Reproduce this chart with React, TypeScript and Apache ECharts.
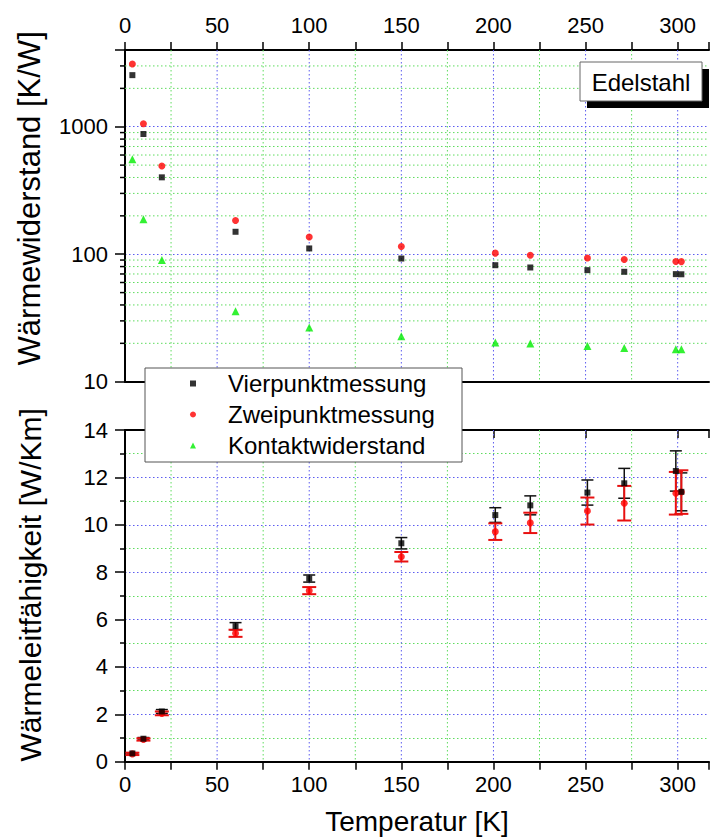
import React, { useEffect, useRef } from 'react';
import * as echarts from 'echarts';

// Measurement temperatures [K]
const temps = [4, 10, 20, 60, 100, 150, 201, 220, 251, 271, 299, 302];

// Thermal resistance [K/W]
const resistanceFour = [2540, 877, 401, 150, 111, 92.5, 82, 78.7, 75, 72.8, 69.8, 69.6];
const resistanceTwo = [3105, 1056, 492, 184, 136.7, 115, 102, 98.3, 93.5, 90.8, 87.7, 87.5];
const resistanceContact = [555, 188, 90, 35.7, 26.6, 22.7, 20.3, 19.9, 19.1, 18.4, 18.0, 18.0];

// Thermal conductivity [W/Km] with uncertainties
const conductivityFour = [0.35, 0.97, 2.12, 5.72, 7.73, 9.22, 10.41, 10.82, 11.36, 11.75, 12.27, 11.39];
const conductivityFourErr = [0.03, 0.05, 0.08, 0.15, 0.15, 0.24, 0.31, 0.4, 0.53, 0.63, 0.85, 0.8];
const conductivityTwo = [0.33, 0.94, 2.04, 5.42, 7.22, 8.65, 9.71, 10.08, 10.58, 10.91, 11.33, 11.38];
const conductivityTwoErr = [0.05, 0.05, 0.08, 0.15, 0.15, 0.2, 0.35, 0.43, 0.57, 0.73, 0.9, 0.92];

// Axis ticks
const tempTicks = [0, 50, 100, 150, 200, 250, 300];
const tempGrid = [25, 50, 75, 100, 125, 150, 175, 200, 225, 250, 275, 300];
const resistanceTicks = [10, 100, 1000];
const resistanceMinor = [20, 30, 40, 50, 60, 70, 80, 90, 200, 300, 400, 500, 600, 700, 800, 900, 2000, 3000];

const FONT = 'Liberation Sans, Arial, Helvetica, sans-serif';
const BLUE = '#5c5cf0';
const GREEN = '#5fdc5f';
const DOTS = [1.5, 2.5];
const RED = '#ff0000';
const LIME = '#00ee00';

const xBase = (gridIndex: number, position: 'top' | 'bottom') => ({
  type: 'value',
  gridIndex,
  position,
  min: 0,
  max: 317,
  interval: 25,
  axisLine: { show: true, onZero: false, lineStyle: { color: '#000', width: 2 } },
  axisTick: { show: true, inside: false, length: 8, lineStyle: { color: '#000', width: 1.5 } },
  axisLabel: {
    show: true,
    color: '#000',
    fontSize: 22,
    fontFamily: FONT,
    margin: position === 'top' ? 14 : 12,
    formatter: (v: number) => (tempTicks.includes(Math.round(v)) && Math.abs(v - Math.round(v)) < 1e-6 ? String(Math.round(v)) : ''),
  },
  splitLine: { show: false },
});

// vertical dotted grid: blue at labelled temperatures, green in between
const tempGridSeries = (xAxisIndex: number, yAxisIndex: number, yRef: number) => ({
  type: 'custom',
  name: 'tempGrid' + xAxisIndex,
  xAxisIndex,
  yAxisIndex,
  z: 1,
  silent: true,
  data: tempGrid.map((t) => [t, yRef]),
  encode: { x: 0, y: 1 },
  renderItem: (params: any, api: any) => {
    const cs = params.coordSys;
    const t = api.value(0);
    const p = api.coord([t, yRef]);
    return {
      type: 'line',
      shape: { x1: p[0], y1: cs.y, x2: p[0], y2: cs.y + cs.height },
      style: { stroke: t % 50 === 0 ? BLUE : GREEN, lineWidth: 1, lineDash: DOTS },
    };
  },
});

const errorBarSeries = (name: string, values: number[], errs: number[], color: string, cap: number, width: number) => ({
  type: 'custom',
  name,
  xAxisIndex: 2,
  yAxisIndex: 1,
  z: 2,
  silent: true,
  data: temps.map((t, i) => [t, values[i], errs[i]]),
  encode: { x: 0, y: 1 },
  renderItem: (_params: any, api: any) => {
    const x = api.value(0);
    const y = api.value(1);
    const e = api.value(2);
    const top = api.coord([x, y + e]);
    const bot = api.coord([x, y - e]);
    const style = { stroke: color, lineWidth: width };
    return {
      type: 'group',
      children: [
        { type: 'line', shape: { x1: top[0], y1: top[1], x2: bot[0], y2: bot[1] }, style },
        { type: 'line', shape: { x1: top[0] - cap, y1: top[1], x2: top[0] + cap, y2: top[1] }, style },
        { type: 'line', shape: { x1: bot[0] - cap, y1: bot[1], x2: bot[0] + cap, y2: bot[1] }, style },
      ],
    };
  },
});

export default function App() {
  const ref = useRef<HTMLDivElement>(null);

  useEffect(() => {
    if (!ref.current) return;
    const chart = echarts.init(ref.current, undefined, { renderer: 'svg' });

    const option: any = {
      animation: false,
      backgroundColor: '#fff',
      textStyle: { fontFamily: FONT },
      grid: [
        { left: 125, top: 50, width: 587, height: 331.7 },
        { left: 125, top: 430, width: 587, height: 331.7 },
      ],
      legend: {
        orient: 'vertical',
        left: 190,
        top: 370.5,
        padding: 0,
        itemWidth: 6,
        itemHeight: 6,
        itemGap: 5,
        selectedMode: false,
        z: 10,
        textStyle: { fontSize: 24, lineHeight: 26, color: '#000', fontFamily: FONT, padding: [0, 0, 0, 27] },
        data: [
          { name: 'Vierpunktmessung', icon: 'rect' },
          { name: 'Zweipunktmessung', icon: 'circle' },
          { name: 'Kontaktwiderstand', icon: 'triangle' },
        ],
      },
      xAxis: [
        xBase(0, 'top'),
        {
          type: 'value', gridIndex: 0, position: 'bottom', min: 0, max: 317,
          axisLine: { show: true, onZero: false, lineStyle: { color: '#000', width: 2 } },
          axisTick: { show: false }, axisLabel: { show: false }, splitLine: { show: false },
        },
        {
          ...xBase(1, 'bottom'),
          name: 'Temperatur [K]',
          nameLocation: 'middle',
          nameGap: 46,
          nameTextStyle: { fontSize: 28, color: '#000', fontFamily: FONT },
        },
        {
          type: 'value', gridIndex: 1, position: 'top', min: 0, max: 317, interval: 50,
          axisLine: { show: true, onZero: false, lineStyle: { color: '#000', width: 2 } },
          axisTick: { show: true, inside: true, length: 8, lineStyle: { color: '#000', width: 1.5 } },
          axisLabel: { show: false }, splitLine: { show: false },
        },
      ],
      yAxis: [
        {
          type: 'log',
          logBase: 10,
          gridIndex: 0,
          min: 10,
          max: 4000,
          name: 'Wärmewiderstand [K/W]',
          nameLocation: 'middle',
          nameRotate: 90,
          nameGap: 80,
          nameTextStyle: { fontSize: 31, color: '#000', fontFamily: FONT, padding: [0, 0, 0, 35] },
          axisLine: { show: true, onZero: false, lineStyle: { color: '#000', width: 2 } },
          axisTick: { show: true, length: 10, lineStyle: { color: '#000', width: 1.5 } },
          axisLabel: {
            color: '#000', fontSize: 22, fontFamily: FONT, margin: 17,
            formatter: (v: number) => {
              const r = Math.round(v);
              return resistanceTicks.includes(r) && Math.abs(v - r) < 1e-3 ? String(r) : '';
            },
          },
          splitLine: { show: true, showMaxLine: false, lineStyle: { color: BLUE, type: DOTS, width: 1 } },
        },
        {
          type: 'value',
          gridIndex: 1,
          min: 0,
          max: 14,
          interval: 2,
          name: 'Wärmeleitfähigkeit [W/Km]',
          nameLocation: 'middle',
          nameRotate: 90,
          nameGap: 80,
          nameTextStyle: { fontSize: 30, color: '#000', fontFamily: FONT, padding: [0, 0, 0, 22] },
          axisLine: { show: true, onZero: false, lineStyle: { color: '#000', width: 2 } },
          axisTick: { show: true, length: 10, lineStyle: { color: '#000', width: 1.5 } },
          minorTick: { show: true, splitNumber: 2, length: 5, lineStyle: { color: '#000', width: 1.5 } },
          axisLabel: { color: '#000', fontSize: 22, fontFamily: FONT, margin: 17 },
          splitLine: { show: true, showMaxLine: false, lineStyle: { color: BLUE, type: DOTS, width: 1 } },
          minorSplitLine: { show: true, lineStyle: { color: GREEN, type: DOTS, width: 1 } },
        },
      ],
      graphic: [
        // legend frame
        {
          type: 'rect', z: 5,
          shape: { x: 145, y: 368, width: 317, height: 94 },
          style: { fill: '#fff', stroke: '#555', lineWidth: 1 },
        },
        // sample label with drop shadow
        {
          type: 'rect', z: 5,
          shape: { x: 587, y: 69, width: 122, height: 39 },
          style: { fill: '#000' },
        },
        {
          type: 'rect', z: 6,
          shape: { x: 580, y: 62, width: 122, height: 39 },
          style: { fill: '#fff', stroke: '#666', lineWidth: 1 },
        },
        {
          type: 'text', z: 7, x: 641, y: 82,
          style: { text: 'Edelstahl', fontSize: 24, fontFamily: FONT, fill: '#000', textAlign: 'center', textVerticalAlign: 'middle' },
        },
      ],
      series: [
        tempGridSeries(0, 0, 100),
        tempGridSeries(2, 1, 1),
        // minor decade grid lines and ticks of the logarithmic axis
        {
          type: 'custom',
          name: 'logMinor',
          xAxisIndex: 0,
          yAxisIndex: 0,
          z: 1,
          silent: true,
          clip: false,
          data: resistanceMinor.map((v) => [0, v]),
          encode: { x: 0, y: 1 },
          renderItem: (params: any, api: any) => {
            const cs = params.coordSys;
            const p = api.coord([0, api.value(1)]);
            return {
              type: 'group',
              children: [
                { type: 'line', shape: { x1: cs.x, y1: p[1], x2: cs.x + cs.width, y2: p[1] }, style: { stroke: GREEN, lineWidth: 1, lineDash: DOTS } },
                { type: 'line', shape: { x1: cs.x - 5, y1: p[1], x2: cs.x, y2: p[1] }, style: { stroke: '#000', lineWidth: 1.5 } },
              ],
            };
          },
        },
        {
          type: 'scatter', name: 'Vierpunktmessung', xAxisIndex: 0, yAxisIndex: 0,
          symbol: 'rect', symbolSize: 6, itemStyle: { color: '#000' },
          data: temps.map((t, i) => [t, resistanceFour[i]]),
        },
        {
          type: 'scatter', name: 'Zweipunktmessung', xAxisIndex: 0, yAxisIndex: 0,
          symbol: 'circle', symbolSize: 7, itemStyle: { color: RED },
          data: temps.map((t, i) => [t, resistanceTwo[i]]),
        },
        {
          type: 'scatter', name: 'Kontaktwiderstand', xAxisIndex: 0, yAxisIndex: 0,
          symbol: 'triangle', symbolSize: 8, itemStyle: { color: LIME },
          data: temps.map((t, i) => [t, resistanceContact[i]]),
        },
        errorBarSeries('errFour', conductivityFour, conductivityFourErr, '#111', 6, 1.5),
        errorBarSeries('errTwo', conductivityTwo, conductivityTwoErr, '#e81010', 7, 2),
        {
          type: 'scatter', name: 'Zweipunktmessung', xAxisIndex: 2, yAxisIndex: 1,
          symbol: 'circle', symbolSize: 7, itemStyle: { color: RED },
          data: temps.map((t, i) => [t, conductivityTwo[i]]),
        },
        {
          type: 'scatter', name: 'Vierpunktmessung', xAxisIndex: 2, yAxisIndex: 1,
          symbol: 'rect', symbolSize: 6, itemStyle: { color: '#000' },
          data: temps.map((t, i) => [t, conductivityFour[i]]),
        },
      ],
    };

    chart.setOption(option);
    return () => chart.dispose();
  }, []);

  return (
    <div
      ref={ref}
      style={{ position: 'absolute', left: 0, top: 0, width: 712, height: 840, background: '#fff' }}
    />
  );
}
